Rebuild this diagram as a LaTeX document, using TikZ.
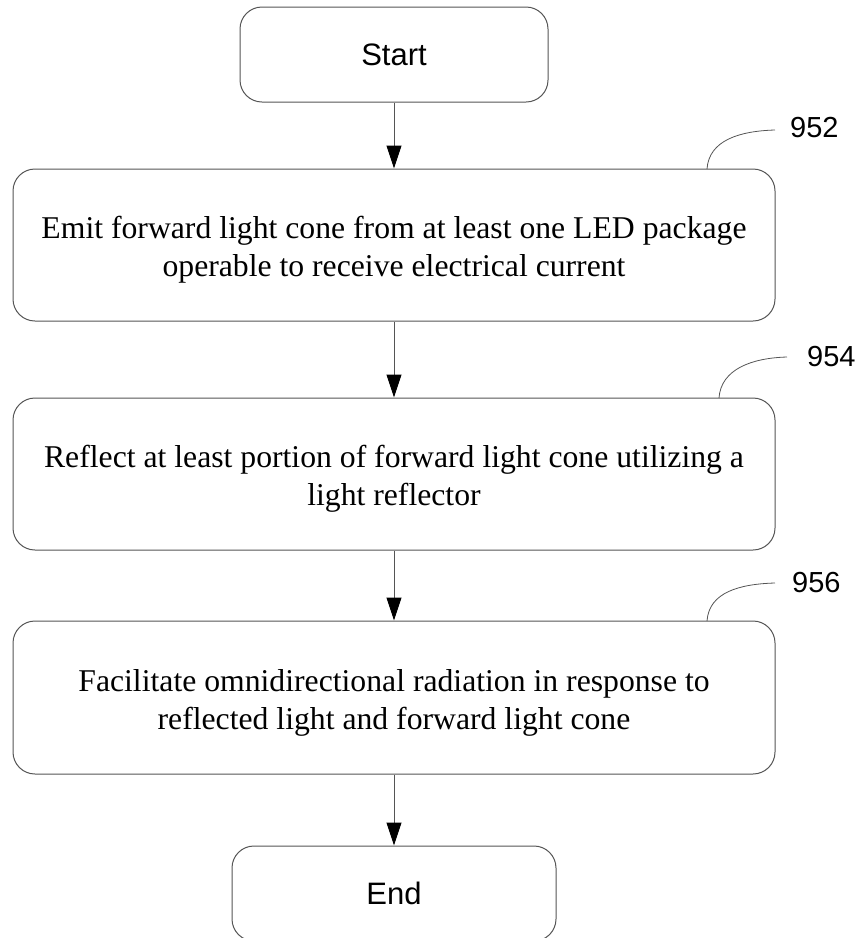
\documentclass[tikz,border=0pt]{standalone}
\usepackage{fontspec}
\setmainfont{Liberation Serif}
\newfontfamily\arialfont{Liberation Sans}
\usetikzlibrary{arrows.meta,calc}
\definecolor{linegray}{RGB}{85,85,85}
\newcommand{\proctext}[1]{\raisebox{-5pt}[\height][\depth]{\begin{tabular}{@{}c@{}}#1\end{tabular}}}
\tikzset{
  termbox/.style={draw=linegray, line width=1pt, rounded corners=22pt,
    minimum height=95pt, inner sep=0pt, font=\arialfont\fontsize{31}{36}\selectfont},
  procbox/.style={draw=linegray, line width=1pt, rounded corners=22pt,
    minimum width=762pt, minimum height=152pt, inner sep=0pt,
    font=\fontsize{31.7}{38}\selectfont},
  flowarrow/.style={draw=linegray, line width=1pt,
    -{Triangle[length=23pt,width=15pt,color=black,fill=black]}},
  leader/.style={draw=linegray, line width=0.8pt},
  reflabel/.style={anchor=west, inner sep=0pt, font=\arialfont\fontsize{29}{34}\selectfont}
}
\begin{document}
\begin{tikzpicture}[x=1pt,y=-1pt]
\useasboundingbox (0,0) rectangle (863,938);
\node[termbox, minimum width=308pt] (start) at (394,54.5) {Start};
\node[procbox] (b952) at (394,245) {\proctext{Emit forward light cone from at least one LED package\\operable to receive electrical current}};
\node[procbox] (b954) at (394,474) {\proctext{Reflect at least portion of forward light cone utilizing a\\light reflector}};
\node[procbox, minimum height=153pt] (b956) at (394,697.5) {\proctext{Facilitate omnidirectional radiation in response to\\reflected light and forward light cone}};
\node[termbox, minimum width=324pt] (end) at (394,893.5) {End};

\draw[flowarrow] (start) -- (b952);
\draw[flowarrow] (b952) -- (b954);
\draw[flowarrow] (b954) -- (b956);
\draw[flowarrow] (b956) -- (end);

\coordinate (c952a) at (707,169);
\coordinate (c952b) at (775,130);
\coordinate (c954a) at (719,398);
\coordinate (c954b) at (787,357);
\coordinate (c956a) at (707,621);
\coordinate (c956b) at (775,583);
\draw[leader] (c952a) .. controls (709,140) and (740,131) .. (c952b);
\draw[leader] (c954a) .. controls (721,369) and (752,358) .. (c954b);
\draw[leader] (c956a) .. controls (709,592) and (740,584) .. (c956b);
\node[reflabel] (l952) at (790,128) {952};
\node[reflabel] (l954) at (807,357) {954};
\node[reflabel] (l956) at (792,583) {956};
\end{tikzpicture}
\end{document}
